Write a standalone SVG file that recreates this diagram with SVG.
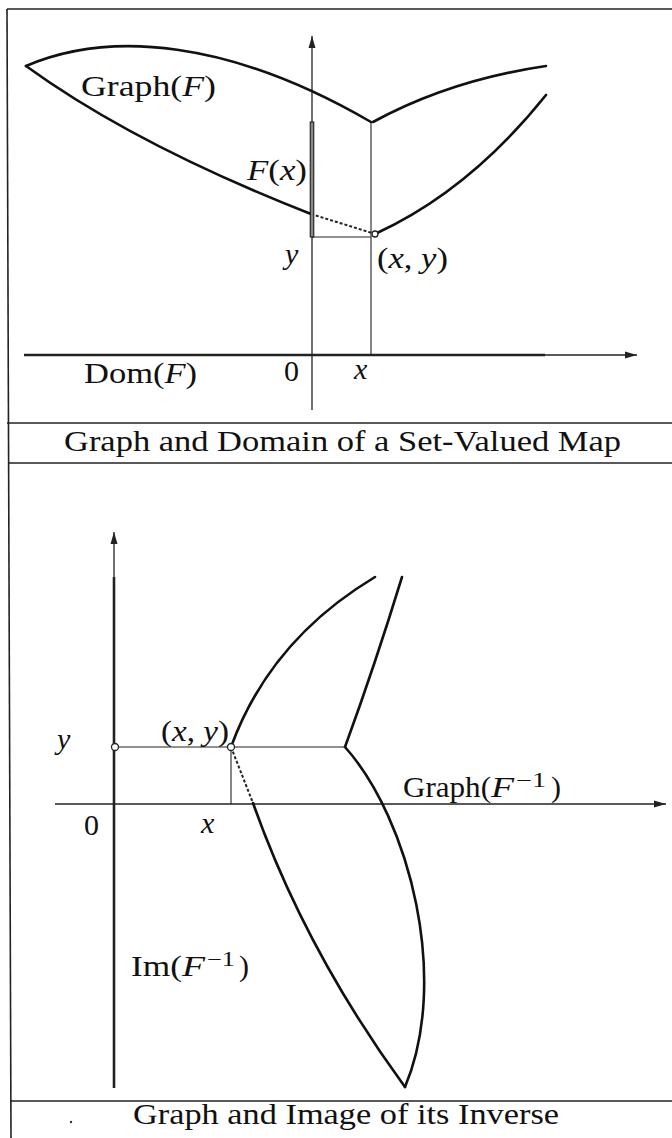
<svg xmlns="http://www.w3.org/2000/svg" width="672" height="1138" viewBox="0 0 672 1138">
<style>
.frame{stroke:#222;stroke-width:1.6;fill:none}
.curve{fill:none;stroke:#111;stroke-width:2.6;stroke-linecap:round;stroke-linejoin:miter}
.dash{fill:none;stroke:#222;stroke-width:2;stroke-dasharray:3 2}
.axis{fill:none;stroke:#222;stroke-width:1.3}
.bold{fill:none;stroke:#222;stroke-width:2.6}
.thin{fill:none;stroke:#222;stroke-width:1.1}
.pt{fill:#fff;stroke:#222;stroke-width:1.3}
text{font-family:"Liberation Serif","Times New Roman",serif;font-size:30px;fill:#111}
.it{font-style:italic}
.sup{font-size:20px}
</style>
<defs>
<marker id="arr" markerUnits="userSpaceOnUse" markerWidth="13" markerHeight="8" refX="12" refY="4" orient="auto">
<path d="M0,0.5 L12,4 L0,7.5 z" fill="#222"/>
</marker>
</defs>
<rect width="672" height="1138" fill="#fff"/>
<g id="frame">
<line class="frame" x1="7" y1="9" x2="672" y2="9"/>
<line class="frame" x1="7" y1="9" x2="11" y2="1138"/>
<line class="frame" x1="7" y1="423" x2="672" y2="423"/>
<line class="frame" x1="8" y1="463" x2="672" y2="463"/>
<line class="frame" x1="10" y1="1101" x2="672" y2="1101"/>
<circle cx="71" cy="1122" r="1.2" fill="#333"/>
</g>
<g id="panel-top">
<g id="axes-top">
<path class="axis" d="M312,410 L312,36" marker-end="url(#arr)"/>
<path class="axis" d="M24,355 L637,355" marker-end="url(#arr)"/>
<line class="bold" x1="24" y1="355" x2="545" y2="355"/>
</g>
<g id="graph-F">
<path class="curve" d="M26,66 C110,30 230,40 371,122"/>
<path class="curve" d="M373,122 Q450,80 546,66"/>
<path class="curve" d="M26,66 Q135,145 311,214"/>
<path class="dash" d="M311,214 L372,233"/>
<path class="curve" d="M377,233 Q470,190 546,95"/>
</g>
<g id="connectors-top">
<line class="thin" x1="371" y1="122" x2="371" y2="355"/>
<line class="thin" x1="312" y1="237" x2="371" y2="237"/>
<rect x="310.2" y="122" width="3.6" height="115" fill="#888" stroke="#111" stroke-width="1"/>
<circle class="pt" cx="375" cy="234" r="3"/>
</g>
<g id="labels-top">
<text x="81" y="96" textLength="135" lengthAdjust="spacingAndGlyphs">Graph(<tspan class="it">F</tspan>)</text>
<text x="247" y="180" textLength="60" lengthAdjust="spacingAndGlyphs"><tspan class="it">F</tspan>(<tspan class="it">x</tspan>)</text>
<text class="it" x="285" y="264">y</text>
<text x="377" y="268" textLength="71" lengthAdjust="spacingAndGlyphs">(<tspan class="it">x</tspan>, <tspan class="it">y</tspan>)</text>
<text x="84" y="383" textLength="113" lengthAdjust="spacingAndGlyphs">Dom(<tspan class="it">F</tspan>)</text>
<text x="284" y="381">0</text>
<text class="it" x="354" y="379">x</text>
<text x="64" y="451" textLength="557" lengthAdjust="spacingAndGlyphs">Graph and Domain of a Set-Valued Map</text>
</g>
</g>
<g id="panel-bottom">
<g id="axes-bottom">
<path class="axis" d="M114,1088 L114,532" marker-end="url(#arr)"/>
<line class="bold" x1="114" y1="577" x2="114" y2="1088"/>
<path class="axis" d="M55,804 L666,804" marker-end="url(#arr)"/>
</g>
<g id="graph-Finv">
<path class="curve" d="M231,747 Q270,640 375,577"/>
<path class="curve" d="M402,577 Q375,665 345,747"/>
<path class="curve" d="M345,747 C410,820 450,980 405,1087"/>
<path class="dash" d="M231,747 L253,803"/>
<path class="curve" d="M253,803 Q305,950 405,1087"/>
</g>
<g id="connectors-bottom">
<line class="thin" x1="114" y1="747" x2="345" y2="747"/>
<line class="thin" x1="231" y1="747" x2="231" y2="804"/>
<circle class="pt" cx="115" cy="747" r="3.5"/>
<circle class="pt" cx="231" cy="747" r="3.5"/>
</g>
<g id="labels-bottom">
<text class="it" x="57" y="749">y</text>
<text x="161" y="741" textLength="68" lengthAdjust="spacingAndGlyphs">(<tspan class="it">x</tspan>, <tspan class="it">y</tspan>)</text>
<g id="label-graph-finv">
<text x="403" y="797" textLength="88" lengthAdjust="spacingAndGlyphs">Graph(</text>
<text class="it" x="491" y="797" textLength="23" lengthAdjust="spacingAndGlyphs">F</text>
<text class="sup" x="516" y="787" textLength="30" lengthAdjust="spacingAndGlyphs">−1</text>
<text x="551" y="797">)</text>
</g>
<g id="label-im-finv">
<text x="131" y="976" textLength="51" lengthAdjust="spacingAndGlyphs">Im(</text>
<text class="it" x="182" y="976" textLength="23" lengthAdjust="spacingAndGlyphs">F</text>
<text class="sup" x="207" y="966" textLength="28" lengthAdjust="spacingAndGlyphs">−1</text>
<text x="239" y="976">)</text>
</g>
<text x="84" y="835">0</text>
<text class="it" x="201" y="833">x</text>
<text x="133" y="1124" textLength="426" lengthAdjust="spacingAndGlyphs">Graph and Image of its Inverse</text>
</g>
</g>
</svg>
